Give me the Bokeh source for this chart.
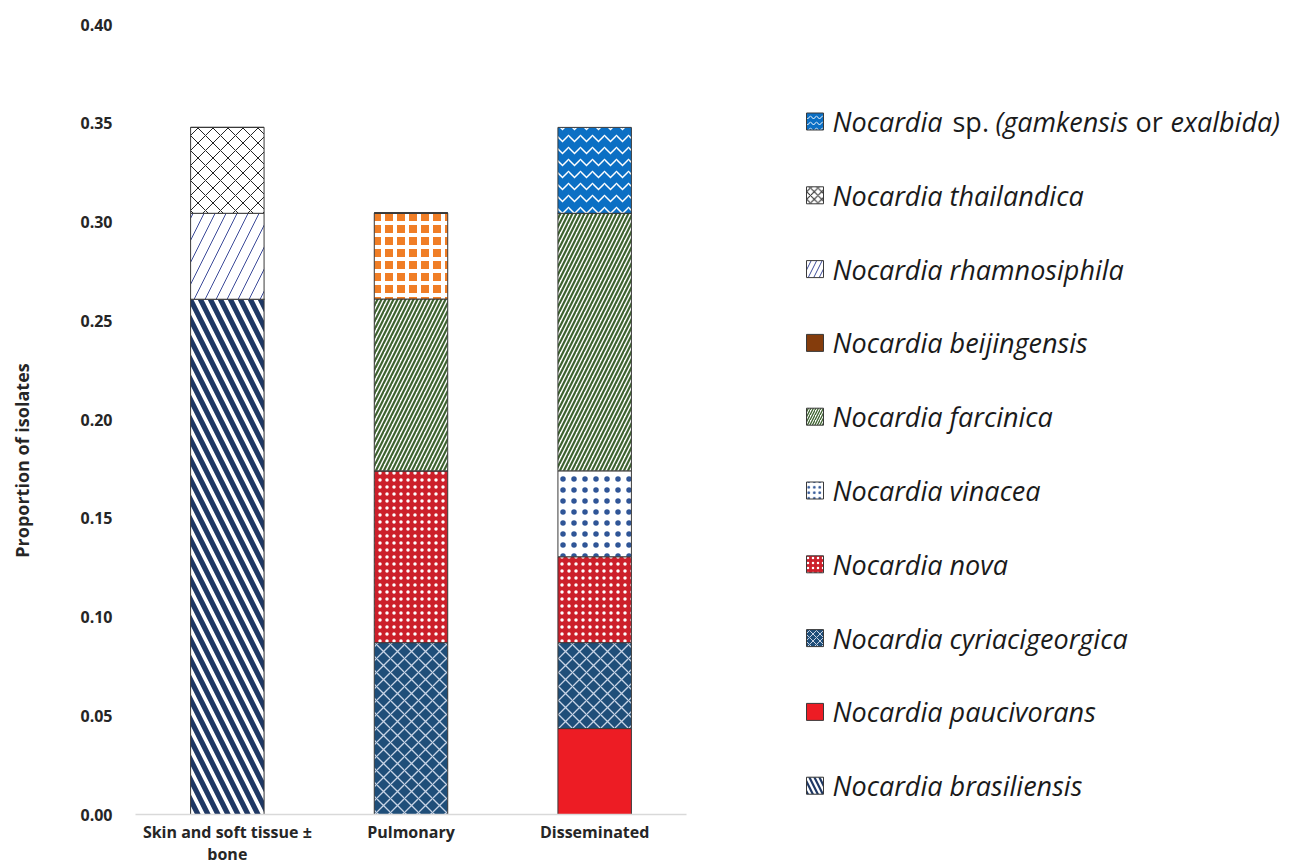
import math
from bokeh.plotting import figure
from bokeh.layouts import row
from bokeh.models import (Range1d, ColumnDataSource, FactorRange, NumeralTickFormatter,
                          FixedTicker)
from bokeh.core.properties import value
from bokeh.embed import file_html
from bokeh.resources import INLINE

# ---------------- data ----------------
categories = ["Skin and soft tissue \u00b1\nbone", "Pulmonary", "Disseminated"]
y_ticks = [0.00, 0.05, 0.10, 0.15, 0.20, 0.25, 0.30, 0.35, 0.40]
y_title = "Proportion of isolates"

# stack order, bottom to top
species = ["brasiliensis", "paucivorans", "cyriacigeorgica", "nova", "vinacea",
           "farcinica", "beijingensis", "rhamnosiphila", "thailandica", "sp"]

brasiliensis    = [0.2609, 0.0,    0.0]
paucivorans     = [0.0,    0.0,    0.0435]
cyriacigeorgica = [0.0,    0.0870, 0.0435]
nova            = [0.0,    0.0870, 0.0435]
vinacea         = [0.0,    0.0,    0.0435]
farcinica       = [0.0,    0.0870, 0.1304]
beijingensis    = [0.0,    0.0435, 0.0]
rhamnosiphila   = [0.0435, 0.0,    0.0]
thailandica     = [0.0435, 0.0,    0.0]
sp              = [0.0,    0.0,    0.0435]

# legend, top to bottom
legend_species = ["sp", "thailandica", "rhamnosiphila", "beijingensis", "farcinica",
                  "vinacea", "nova", "cyriacigeorgica", "paucivorans", "brasiliensis"]
legend_names = ["", "thailandica", "rhamnosiphila", "beijingensis", "farcinica",
                "vinacea", "nova", "cyriacigeorgica", "paucivorans", "brasiliensis"]

# ---------------- styles ----------------
style = {
    "brasiliensis":    dict(fill="#1f3864", hp="\\", hc="white",   hs=20, hw=3.8),
    "paucivorans":     dict(fill="#ed1c24", hp=" ",  hc="white",   hs=10, hw=1.0),
    "cyriacigeorgica": dict(fill="#1f4e79", hp="x",  hc="#c8d4e6", hs=14, hw=1.3),
    "nova":            dict(fill="#cc1f2a", hp=".",  hc="white",   hs=7,  hw=2.5),
    "vinacea":         dict(fill="white",   hp=".",  hc="#2f5597", hs=11, hw=0.5),
    "farcinica":       dict(fill="white",   hp="/",  hc="#3e6330", hs=8,  hw=2.2),
    "beijingensis":    dict(fill="#f07e26", hp="+",  hc="white",   hs=12, hw=4.0),
    "rhamnosiphila":   dict(fill="white",   hp="/",  hc="#3b4a99", hs=22, hw=1.0),
    "thailandica":     dict(fill="white",   hp="x",  hc="#222222", hs=15, hw=1.0),
    "sp":              dict(fill="#0b6fc4", hp="v",  hc="white",   hs=12, hw=1.5),
}

FONT = "Open Sans"
TXT = "#262626"

# page geometry (pixels)
FIG_H = 867
FRAME_TOP = 24
FRAME_BOTTOM = 814
FRAME_LEFT = 135
FRAME_W = 551
TITLE_W = 40
MAIN_W = 690 - TITLE_W
LEG_W = 598

common_borders = dict(min_border_top=FRAME_TOP, min_border_bottom=FIG_H - FRAME_BOTTOM)

# ---------------- y-axis title panel ----------------
tp = figure(width=TITLE_W, height=FIG_H, x_range=Range1d(0, TITLE_W),
            y_range=Range1d(FRAME_BOTTOM, FRAME_TOP), min_border_left=0, min_border_right=0,
            x_axis_location=None, y_axis_location=None,
            output_backend="svg", toolbar_location=None, tools="", **common_borders)
tp.outline_line_color = None
tp.xgrid.grid_line_color = None
tp.ygrid.grid_line_color = None
tp.text(x=[21], y=[460], text=[y_title], angle=math.pi / 2, text_align="center",
        text_baseline="middle", text_font=value(FONT), text_font_style="bold",
        text_font_size="18px", text_color=TXT)

# ---------------- main chart ----------------
source = ColumnDataSource(dict(cat=categories,
                               brasiliensis=brasiliensis, paucivorans=paucivorans,
                               cyriacigeorgica=cyriacigeorgica, nova=nova, vinacea=vinacea,
                               farcinica=farcinica, beijingensis=beijingensis,
                               rhamnosiphila=rhamnosiphila, thailandica=thailandica, sp=sp))

p = figure(x_range=FactorRange(factors=categories), y_range=Range1d(0, 0.40),
           width=MAIN_W, height=FIG_H, min_border_left=FRAME_LEFT - TITLE_W,
           min_border_right=690 - FRAME_LEFT - FRAME_W,
           output_backend="svg", toolbar_location=None, tools="", **common_borders)

p.vbar_stack(species, x="cat", width=0.40, source=source,
             fill_color=[style[s]["fill"] for s in species],
             hatch_pattern=[style[s]["hp"] for s in species],
             hatch_color=[style[s]["hc"] for s in species],
             hatch_scale=[style[s]["hs"] for s in species],
             hatch_weight=[style[s]["hw"] for s in species],
             line_color="#3a3a3a", line_width=1)

p.x_range.range_padding = 0
p.outline_line_color = None
p.xgrid.grid_line_color = None
p.ygrid.grid_line_color = None

p.yaxis.ticker = FixedTicker(ticks=y_ticks)
p.yaxis.formatter = NumeralTickFormatter(format="0.00")
p.yaxis.axis_line_color = None
p.yaxis.major_tick_line_color = None
p.yaxis.minor_tick_line_color = None
p.yaxis.major_label_standoff = 17
p.yaxis.major_label_text_font = FONT
p.yaxis.major_label_text_font_style = "bold"
p.yaxis.major_label_text_font_size = "16px"
p.yaxis.major_label_text_color = TXT

p.xaxis.axis_line_color = "#d9d9d9"
p.xaxis.axis_line_width = 1.5
p.xaxis.major_tick_line_color = None
p.xaxis.minor_tick_line_color = None
p.xaxis.major_label_standoff = 0
p.xaxis.major_label_text_font = FONT
p.xaxis.major_label_text_font_style = "bold"
p.xaxis.major_label_text_font_size = "16px"
p.xaxis.major_label_text_line_height = 1.0
p.xaxis.major_label_text_color = TXT

# ---------------- legend panel (coordinates in page pixels) ----------------
lg = figure(width=LEG_W, height=FIG_H,
            x_range=Range1d(690, 690 + LEG_W), y_range=Range1d(FRAME_BOTTOM, FRAME_TOP),
            min_border_left=0, min_border_right=0,
            x_axis_location=None, y_axis_location=None,
            output_backend="svg", toolbar_location=None, tools="", **common_borders)
lg.outline_line_color = None
lg.xgrid.grid_line_color = None
lg.ygrid.grid_line_color = None

row_y = [121 + i * 73.8 for i in range(len(legend_species))]
sq = ColumnDataSource(dict(
    x=[814.5] * len(legend_species), y=row_y,
    fill=["#843c0c" if s == "beijingensis" else style[s]["fill"] for s in legend_species],
    hp=[" " if s == "beijingensis" else style[s]["hp"] for s in legend_species],
    hc=[style[s]["hc"] for s in legend_species],
    hs=[max(5, style[s]["hs"] * 0.5) for s in legend_species],
    hw=[max(1, style[s]["hw"] * 0.6) for s in legend_species],
))
lg.scatter("x", "y", source=sq, marker="square", size=17,
           fill_color="fill", hatch_pattern="hp", hatch_color="hc",
           hatch_scale="hs", hatch_weight="hw", line_color="#3a3a3a", line_width=1)

LFS = "27px"
it_x = [832, 995, 1170] + [832] * 9
it_y = [row_y[0]] * 3 + row_y[1:]
it_t = ["Nocardia", "(gamkensis", "exalbida)"] + ["Nocardia " + n for n in legend_names[1:]]
lg.text(x=it_x, y=it_y, text=it_t, text_font=value(FONT), text_font_style="italic",
        text_font_size=LFS, text_color="#1a1a1a", text_baseline="middle")
lg.text(x=[952, 1135], y=[row_y[0], row_y[0]], text=["sp.", "or"], text_font=value(FONT),
        text_font_style="normal", text_font_size=LFS, text_color="#1a1a1a",
        text_baseline="middle")

layout = row(tp, p, lg)
open("out.html", "w").write(file_html(layout, INLINE))
